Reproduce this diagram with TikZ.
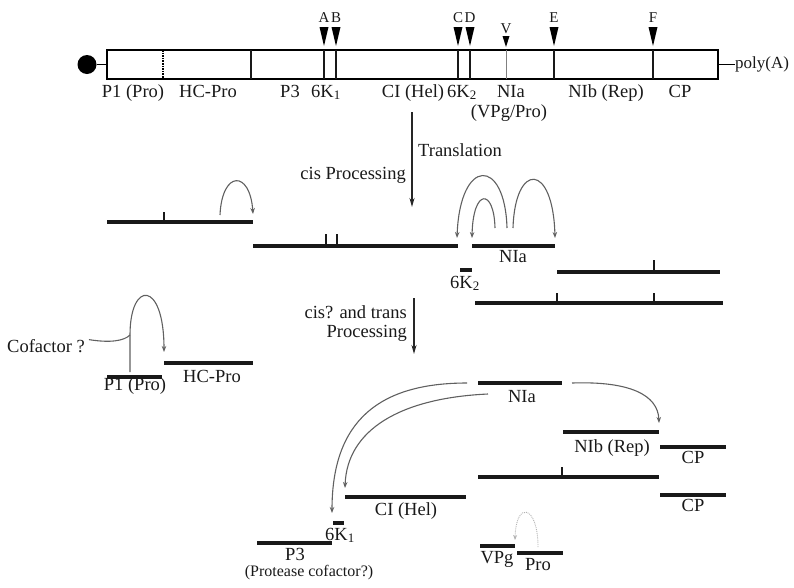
\documentclass[tikz,border=0pt]{standalone}
\usepackage{fontspec}
\setmainfont{Liberation Serif}
\usetikzlibrary{arrows.meta,positioning,calc}
\tikzset{
  seg/.style={line width=3.3pt, black!90},
  cut/.style={line width=2.4pt, black!90},
  arc/.style={-{Stealth[length=6pt,width=4.5pt]}, line width=1.1pt, gray!75!black},
  darc/.style={-{Stealth[length=5pt,width=4pt]}, line width=0.9pt, densely dotted, gray!60},
  parr/.style={-{Stealth[length=9pt,width=5pt]}, line width=1.5pt, black!85},
  lbl/.style={font=\fontsize{18.5}{21}\selectfont, inner sep=0pt, anchor=base, text=black!90},
  slbl/.style={font=\fontsize{15}{17}\selectfont, inner sep=0pt, anchor=base, text=black!90}
}

\begin{document}
\begin{tikzpicture}[x=1pt, y=-1pt]
\useasboundingbox (0,0) rectangle (794,587);

% Genome
\node[draw, line width=1.9pt, minimum width=611pt, minimum height=29pt,
      inner sep=0pt] (genome) at (412.5,64.5) {};
\node[circle, fill, inner sep=0pt, minimum size=19pt] (cap) at (87,64.5) {};
\node[lbl, anchor=west, font=\fontsize{17}{20}\selectfont] (polyA) at (735,64.5) {poly(A)};

\draw[densely dotted, line width=1.6pt] (163,50) -- (163,79);
\draw[cut] (251,50) -- (251,79);
\foreach \x/\n in {324/A,336/B,458/C,470/D,554/E,653/F}{
  \draw[cut] (\x,50) -- (\x,79);
  \fill (\x-4.5,27) -- (\x+4.5,27) -- (\x,46) -- cycle;
  \node[slbl] (site\n) at (\x,22) {\n};
}
\draw[line width=0.8pt, gray] (506,50) -- (506,79);
\fill (506-3.5,36) -- (506+3.5,36) -- (506,47) -- cycle;
\node[slbl] (siteV) at (506,33) {V};

% Genome labels
\node[lbl] (gP1)  at (133,97) {P1 (Pro)};
\node[lbl] (gHC)  at (208,97) {HC-Pro};
\node[lbl] (gP3)  at (290,97) {P3};
\node[lbl] (gK1)  at (326,97) {6K\textsubscript{1}};
\node[lbl] (gCI)  at (413,97) {CI (Hel)};
\node[lbl] (gK2)  at (462,97) {6K\textsubscript{2}};
\node[lbl] (gNIa) at (511,97) {NIa};
\node[lbl] (gVP)  at (509,117) {(VPg/Pro)};
\node[lbl] (gNIb) at (606,97) {NIb (Rep)};
\node[lbl] (gCP)  at (680,97) {CP};

% Translation
\coordinate (tr1) at (412,112);
\coordinate (tr2) at (412,207);
\node[lbl, anchor=base west] (trans) at (418,156) {Translation};
\node[lbl, anchor=base east] (cisP) at (406,179) {cis Processing};

% First cleavage products
\draw[seg] (107,222) -- (253,222);
\draw[cut] (164,222) -- (164,212);
\coordinate (a1s) at (220,215);
\coordinate (a1e) at (253,214);

\draw[seg] (253,246) -- (458,246);
\draw[cut] (326,246) -- (326,234);
\draw[cut] (337,246) -- (337,234);

\draw[seg] (472,246) -- (555,246);
\node[lbl] (nia1) at (513,262) {NIa};
\coordinate (b1s) at (507,228);
\coordinate (b1e) at (457,238);
\coordinate (b2s) at (495,228);
\coordinate (b2e) at (472,238);
\coordinate (b3s) at (513,228);
\coordinate (b3e) at (555,238);

\draw[seg] (460,270) -- (472,270);
\node[lbl] (k2a) at (465,288) {6K\textsubscript{2}};

\draw[seg] (557,272) -- (720,272);
\draw[cut] (654,272) -- (654,260);
\draw[seg] (475,303) -- (723,303);
\draw[cut] (557,303) -- (557,293);
\draw[cut] (654,303) -- (654,293);

% cis? and trans processing
\coordinate (ct1) at (414,298);
\coordinate (ct2) at (414,354);
\node[lbl, anchor=base east] (cisT) at (407,318) {cis? and trans};
\node[lbl, anchor=base east] (proc) at (407,337) {Processing};

% P1 / HC-Pro
\draw[seg] (107,377) -- (162,377);
\node[lbl] (p1) at (135,390) {P1 (Pro)};
\draw[seg] (164,363) -- (253,363);
\node[lbl] (hc) at (212,382) {HC-Pro};
\node[lbl, anchor=base west] (cof) at (7,352) {Cofactor ?};
\coordinate (c1s) at (130,372);
\coordinate (c1m) at (130,335);
\coordinate (c1e) at (164,352);

% Final products
\draw[seg] (478,383) -- (562,383);
\node[lbl] (nia2) at (522,402) {NIa};
\coordinate (d1s) at (467,383);
\coordinate (d2s) at (488,394);
\coordinate (d3s) at (572,383);

\draw[seg] (345,497) -- (466,497);
\node[lbl] (ci) at (406,515) {CI (Hel)};
\draw[seg] (333,523) -- (344,523);
\node[lbl] (k1) at (340,540) {6K\textsubscript{1}};
\draw[seg] (257,543) -- (332,543);
\node[lbl] (p3) at (295,560) {P3};
\node[lbl, font=\fontsize{16}{19}\selectfont] (pcof) at (309,576) {(Protease cofactor?)};

\draw[seg] (563,432) -- (659,432);
\node[lbl] (nib) at (612,452) {NIb (Rep)};
\draw[seg] (660,447) -- (726,447);
\node[lbl] (cp1) at (693,463) {CP};
\draw[seg] (478,477) -- (659,477);
\draw[cut] (562,477) -- (562,467);
\draw[seg] (660,495) -- (726,495);
\node[lbl] (cp2) at (693,511) {CP};

\draw[seg] (480,546) -- (515,546);
\node[lbl] (vpg) at (497,563) {VPg};
\draw[seg] (517,553) -- (563,553);
\node[lbl] (pro) at (538,570) {Pro};

% ── Arrows ──────────────────────────────────────────────────────────────
\draw[line width=1.5pt] (cap.east) -- (genome.west);
\draw[line width=1.5pt] (genome.east) -- (polyA.west);
\draw[parr] (tr1) -- (tr2);
\draw[parr] (ct1) -- (ct2);

\draw[arc] (a1s) .. controls (222,170) and (250,170) .. (a1e);
\draw[arc] (b1s) .. controls (505,157) and (460,157) .. (b1e);
\draw[arc] (b2s) .. controls (494,188) and (473,188) .. (b2e);
\draw[arc] (b3s) .. controls (515,162) and (553,162) .. (b3e);

\draw[arc] (c1s) -- (c1m) .. controls (130,280) and (164,280) .. (c1e);
\draw[arc, -] (cof.east) ++(4,-6) .. controls (110,343) and (124,341) .. (c1m);

\draw[arc] (d1s) .. controls (380,383) and (332,420) .. (332,513);
\draw[arc] (d2s) .. controls (400,398) and (347,430) .. (345,488);
\draw[arc] (d3s) .. controls (630,381) and (658,395) .. (659,423);
\draw[darc] (538,547) .. controls (538,505) and (516,500) .. (515,540);

\end{tikzpicture}
\end{document}
